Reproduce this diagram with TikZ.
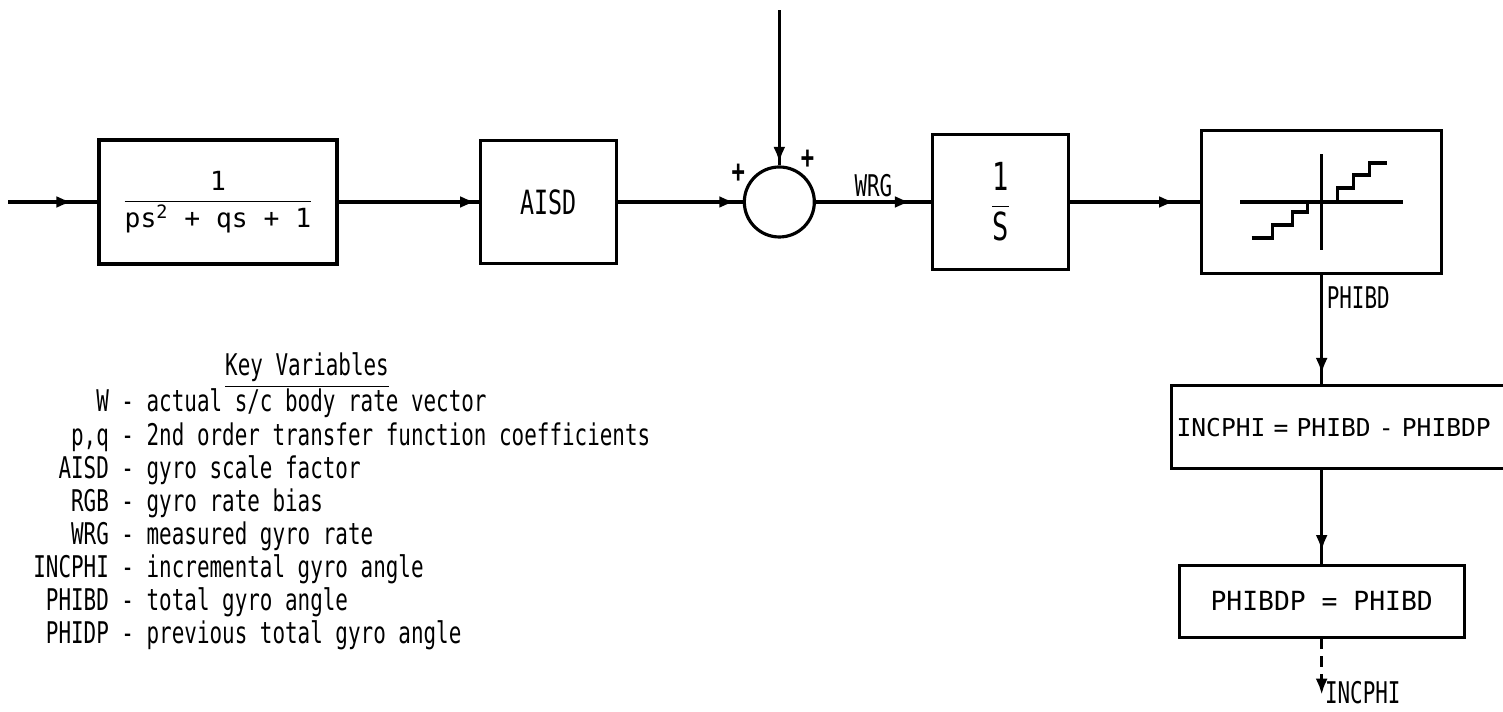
\documentclass[tikz,border=0pt]{standalone}
\usepackage{amsmath}
\usepackage{fontspec}
\newfontfamily\gyrofont[FakeStretch=0.7]{DejaVu Sans Mono}
\newfontfamily\handfont{DejaVu Sans Mono}
\usetikzlibrary{arrows.meta, positioning, decorations.markings}

\begin{document}
\begin{tikzpicture}[
    node distance=2.8cm,
    box/.style={
        rectangle, draw, line width=1.8pt, inner sep=0pt,
        align=center, font=\gyrofont\fontsize{19}{22}\selectfont
    },
    sumnode/.style={circle, draw, line width=1.8pt, minimum size=1.4cm, inner sep=0pt},
    wire/.style={line width=1.8pt},
    flow/.style={wire, postaction={decorate},
        decoration={markings, mark=at position #1 with {\arrow{Latex[length=3.2mm, width=2.4mm]}}}},
    flow/.default=-0.3cm,
    lab/.style={font=\gyrofont\fontsize{17}{18.8}\selectfont, inner sep=2pt},
    sign/.style={font=\gyrofont\bfseries\fontsize{18}{20}\selectfont, inner sep=1pt}
]
\useasboundingbox (0,0) rectangle (30.06,14.24);

% --- Blocs ---
\node[box, minimum width=4.76cm, minimum height=2.48cm] (filt) at (4.36,10.2)
    {\handfont\fontsize{15}{18}\selectfont
     $\dfrac{\text{1}}{\text{ps\textsuperscript{2} + qs + 1}}$};
\node[box, minimum width=2.72cm, minimum height=2.46cm, right=2.8cm of filt] (aisd) {AISD};
\node[sumnode, right=2.5cm of aisd,
      label={[sign]152:+}, label={[sign]58:+}] (sum) {};
\node[box, minimum width=2.72cm, minimum height=2.7cm, right=2.3cm of sum] (intg)
    {\fontsize{22}{24}\selectfont $\dfrac{\text{1}}{\text{S}}$};
\node[box, minimum width=4.8cm, minimum height=2.86cm, right=2.6cm of intg] (quant) {};
\node[box, minimum width=7.2cm, minimum height=1.66cm, anchor=north west,
      text width=7.0cm, inner xsep=0.1cm, align=left,
      font=\handfont\fontsize{14}{16}\selectfont] (incbox) at (23.4,6.56)
    {INCPHI = PHIBD - PHIBDP};
\node[box, minimum width=5.7cm, minimum height=1.44cm, below=5.77cm of quant,
      font=\handfont\fontsize{15}{18}\selectfont] (keep) {PHIBDP = PHIBD};

% --- Extremites libres ---
\coordinate (src) at (0.16,10.2);
\coordinate[above=3.1cm of sum.north] (bias);
\coordinate[below=1.12cm of keep.south] (incout);

% caracteristique en escalier
\begin{scope}[shift={(quant.center)}, wire]
    \draw (-1.63,0) -- (1.63,0);
    \draw (0,-0.96) -- (0,0.96);
    \draw (-1.4,-0.72) -- (-0.98,-0.72) -- (-0.98,-0.46) -- (-0.58,-0.46)
        -- (-0.58,-0.2) -- (-0.28,-0.2) -- (-0.28,0);
    \draw (0.32,0) -- (0.32,0.28) -- (0.64,0.28) -- (0.64,0.54)
        -- (0.96,0.54) -- (0.96,0.78) -- (1.3,0.78);
\end{scope}

% 1. Chaine directe
\draw[flow=-0.5cm] (src) -- (filt);
\draw[flow=-0.05cm] (filt) -- (aisd);
\draw[flow=-0.15cm] (aisd) -- (sum);
\draw[flow=-0.05cm] (bias) -- (sum);
\draw[flow=-0.4cm] (sum) --
    node[lab, above] {WRG} (intg);
\draw[flow=-0.5cm] (intg) -- (quant);

% 2. Increment d'angle
\draw[flow=-0.2cm] (quant) --
    node[lab, right, pos=0.21] {PHIBD} (quant.south |- incbox.north);
\draw[flow=-0.25cm] (incbox.south -| keep) -- (keep);
\draw[wire, dash pattern=on 6pt off 4pt, -{Latex[length=3.2mm, width=2.4mm]}] (keep) -- (incout)
    node[lab, right, inner sep=1pt, yshift=1pt] (incname) {INCPHI};

% --- Legende ---
\node[lab, anchor=base] (keytitle) at (6.14,6.72) {\underline{Key Variables}};
\node[lab, anchor=base west, inner sep=0pt] (keylist) at (0.66,6.0)
    {\begin{tabular}[t]{@{}r@{ - }l@{}}
        W & actual s/c body rate vector\\
        p,q & 2nd order transfer function coefficients\\
        AISD & gyro scale factor\\
        RGB & gyro rate bias\\
        WRG & measured gyro rate\\
        INCPHI & incremental gyro angle\\
        PHIBD & total gyro angle\\
        PHIDP & previous total gyro angle
    \end{tabular}};

\end{tikzpicture}
\end{document}
